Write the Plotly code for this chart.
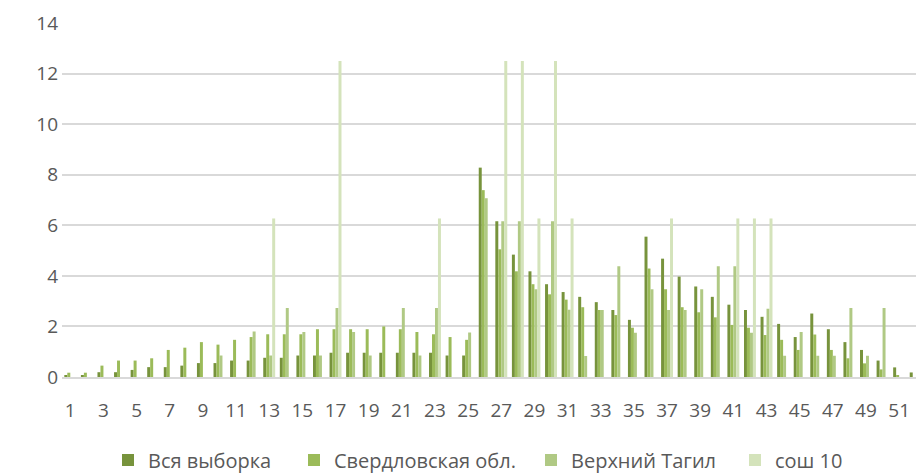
import plotly.graph_objects as go

categories = list(range(1, 53))
tick_labels = [str(k) for k in range(1, 52, 2)]

vsya = [0.07, 0.07, 0.19, 0.19, 0.28, 0.39, 0.39, 0.45, 0.55, 0.55, 0.65, 0.65, 0.76,
        0.76, 0.85, 0.85, 0.96, 0.96, 0.96, 0.96, 0.96, 0.96, 0.96, 0.85, 0.85, 8.28,
        6.16, 4.84, 4.18, 3.67, 3.36, 3.17, 2.96, 2.65, 2.26, 5.55, 4.68, 3.97, 3.58,
        3.17, 2.86, 2.65, 2.38, 2.10, 1.58, 2.51, 1.89, 1.38, 1.07, 0.65, 0.38, 0.18]
sverdl = [0.17, 0.17, 0.45, 0.65, 0.65, 0.74, 1.07, 1.16, 1.38, 1.28, 1.47, 1.58, 1.69,
          1.69, 1.69, 1.89, 1.89, 1.89, 1.89, 2.00, 1.89, 1.78, 1.69, 1.58, 1.47, 7.39,
          5.05, 4.18, 3.67, 3.27, 3.06, 2.76, 2.65, 2.45, 1.95, 4.29, 3.47, 2.76, 2.56,
          2.36, 2.06, 1.95, 1.66, 1.47, 1.07, 1.68, 1.07, 0.74, 0.54, 0.30, 0.07, 0.0]
vtagil = [0, 0, 0, 0, 0, 0, 0, 0, 0, 0.85, 0, 1.80, 0.85,
          2.73, 1.78, 0.85, 2.73, 1.78, 0.85, 0, 2.73, 0.85, 2.73, 0, 1.76, 7.07,
          6.16, 6.16, 3.47, 6.16, 2.66, 0.83, 2.65, 4.38, 1.75, 3.47, 2.65, 2.65, 3.47,
          4.38, 4.38, 1.75, 2.70, 0.84, 1.78, 0.84, 0.84, 2.73, 0.84, 2.73, 0, 0]
sosh10 = [0, 0, 0, 0, 0, 0, 0, 0, 0, 0, 0, 0, 6.27,
          0, 0, 0, 12.5, 0, 0, 0, 0, 0, 6.27, 0, 0, 0,
          12.5, 12.5, 6.27, 12.5, 6.27, 0, 0, 0, 0, 0, 6.27, 0, 0,
          0, 6.27, 6.27, 6.27, 0, 0, 0, 0, 0, 0, 0, 0, 0]

series_names = ["Вся выборка", "Свердловская обл.", "Верхний Тагил", "сош 10"]
series_values = [vsya, sverdl, vtagil, sosh10]
series_colors = ["#77933c", "#9bbb59", "#b0c984", "#d4e3bb"]
legend_ids = ["legend", "legend2", "legend3", "legend4"]
legend_left_px = [100, 286, 523, 727]

FONT = "Open Sans"
TXT = "#595959"
# the page body adds an 8px offset, so the figure is 8px smaller than the window
W, H = 916, 465

fig = go.Figure()
for name, vals, col, lg in zip(series_names, series_values, series_colors, legend_ids):
    fig.add_trace(go.Bar(x=categories, y=vals, name=name, marker_color=col,
                         marker_line_width=0, legend=lg))

legend_font = dict(family=FONT, size=20, color=TXT)
legends = {}
for lg, px in zip(legend_ids, legend_left_px):
    legends[lg] = dict(orientation="h", xref="container", yref="container",
                       x=px / W, xanchor="left", y=(H - 452) / H, yanchor="middle",
                       font=legend_font, itemwidth=30, bgcolor="rgba(0,0,0,0)")

fig.update_layout(
    width=W, height=H,
    margin=dict(l=54, r=0, t=15, b=96, autoexpand=False),
    paper_bgcolor="white", plot_bgcolor="white",
    barmode="group", bargap=0.28, bargroupgap=0,
    font=dict(family=FONT, size=19, color=TXT),
    showlegend=True,
    **legends,
)
fig.update_xaxes(range=[0.5, 52.5], tickmode="array", automargin=False,
                 tickvals=list(range(1, 52, 2)), ticktext=tick_labels,
                 showgrid=False, showline=True, linecolor="#d9d9d9", linewidth=2,
                 ticks="", ticklabelstandoff=15, zeroline=False,
                 tickfont=dict(family=FONT, size=19, color=TXT))
fig.update_yaxes(range=[0, 14], dtick=2, showgrid=True, gridcolor="#d9d9d9",
                 gridwidth=1.5, zeroline=False, ticks="", ticklabelstandoff=3,
                 automargin=False,
                 tickfont=dict(family=FONT, size=19, color=TXT))

fig.write_html("out.html")
